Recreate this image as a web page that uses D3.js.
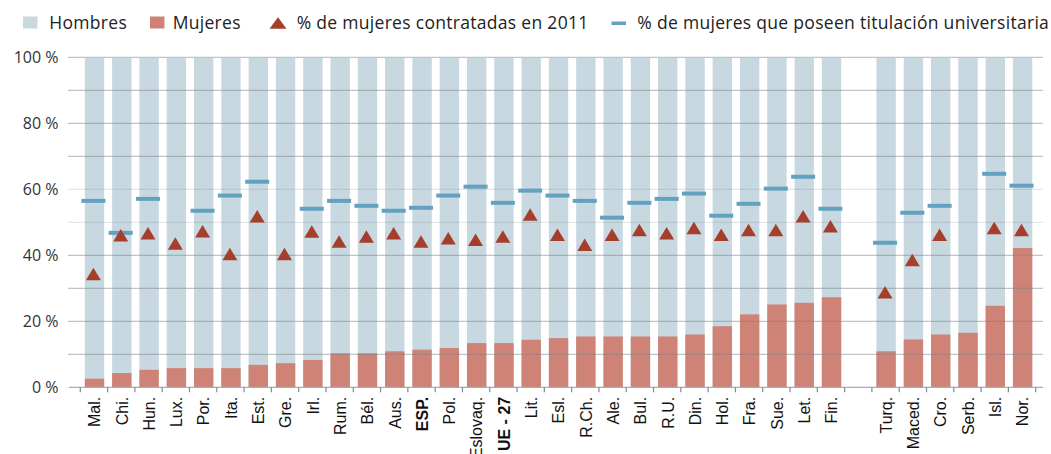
<!DOCTYPE html>
<html>
<head>
<meta charset="utf-8">
<script src="https://cdn.jsdelivr.net/npm/d3@7"></script>
<style>
  body { margin: 0; background: #fff; }
  svg { display: block; }
</style>
</head>
<body>
<div id="graph"></div>
<script>
// categories (a blank slot separates the EU countries from the others)
const countries = ["Mal.", "Chi.", "Hun.", "Lux.", "Por.", "Ita.", "Est.", "Gre.", "Irl.", "Rum.",
  "Bél.", "Aus.", "ESP.", "Pol.", "Eslovaq.", "UE - 27", "Lit.", "Esl.", "R.Ch.", "Ale.",
  "Bul.", "R.U.", "Din.", "Hol.", "Fra.", "Sue.", "Let.", "Fin."];
const others = ["Turq.", "Maced.", "Cro.", "Serb.", "Isl.", "Nor."];
const boldLabels = ["ESP.", "UE - 27"];

// % women (rest up to 100 % = men)
const mujeres = [2.6, 4.3, 5.3, 5.8, 5.8, 5.8, 6.8, 7.3, 8.3, 10.3,
  10.3, 10.9, 11.4, 11.9, 13.4, 13.4, 14.4, 14.9, 15.4, 15.4,
  15.4, 15.4, 16.0, 18.5, 22.1, 25.1, 25.6, 27.3,
  10.9, 14.5, 16.0, 16.5, 24.7, 42.2];
// % women hired in 2011
const contratadas = [34.3, 46.1, 46.7, 43.6, 47.3, 40.4, 51.8, 40.4, 47.2, 44.2,
  45.7, 46.7, 44.2, 45.2, 44.7, 45.7, 52.4, 46.2, 43.2, 46.2,
  47.7, 46.7, 48.3, 46.2, 47.7, 47.7, 51.8, 48.8,
  28.8, 38.6, 46.2, null, 48.3, 47.7];
// % women with a university degree
const titulacion = [56.5, 46.8, 57.1, null, 53.5, 58.1, 62.3, null, 54.1, 56.5,
  55.0, 53.5, 54.4, 58.1, 60.8, 55.9, 59.6, 58.1, 56.5, 51.4,
  55.9, 57.1, 58.7, 52.0, 55.6, 60.2, 63.8, 54.1,
  43.8, 52.9, 55.0, null, 64.7, 61.1];

const yTicks = [0, 20, 40, 60, 80, 100];
const gridValues = d3.range(10, 101, 10);

const legendItems = ["Hombres", "Mujeres", "% de mujeres contratadas en 2011",
  "% de mujeres que poseen titulación universitaria"];

const colors = {
  hombres: "#c7d8e1",
  mujeres: "#cf8276",
  triangle: "#a63e2c",
  dash: "#62a1bf"
};

const width = 1051, height = 454;
const categories = countries.concat(others);
const data = categories.map((c, i) => ({
  name: c, mujeres: mujeres[i], contratadas: contratadas[i], titulacion: titulacion[i]
}));

const svg = d3.select("#graph").append("svg")
  .attr("width", width)
  .attr("height", height);

// scales
const domain = countries.concat(["_gap"], others);
const xScale = d3.scaleBand()
  .domain(domain)
  .range([80.3, 1035.7]);
const bw = xScale.bandwidth();
const barX = d => xScale(d.name) + bw * 0.165;
const barW = bw * 0.71;
const markX = d => xScale(d.name) + bw * 0.48;

const yScale = d3.scaleLinear()
  .domain([0, 100])
  .range([387.3, 57.3]);

// bars: men (full) then women on top
svg.append("g").selectAll("rect")
  .data(data)
  .enter().append("rect")
  .attr("x", barX)
  .attr("width", barW)
  .attr("y", yScale(100) + 0.7)
  .attr("height", yScale(0) - yScale(100) - 0.7)
  .attr("fill", colors.hombres);

svg.append("g").selectAll("rect")
  .data(data)
  .enter().append("rect")
  .attr("x", barX)
  .attr("width", barW)
  .attr("y", d => yScale(d.mujeres))
  .attr("height", d => yScale(0) - yScale(d.mujeres))
  .attr("fill", colors.mujeres);

// gridlines over bars
svg.append("g").selectAll("line")
  .data(gridValues)
  .enter().append("line")
  .attr("x1", 68)
  .attr("x2", 1043)
  .attr("y1", d => yScale(d))
  .attr("y2", d => yScale(d))
  .attr("stroke", "#7f8487")
  .attr("stroke-opacity", d => (d === 50 || d === 60) ? 0.25 : 0.6)
  .attr("stroke-width", 1);

// y labels
svg.append("g").selectAll("text")
  .data(yTicks)
  .enter().append("text")
  .attr("x", 58.5)
  .attr("y", d => yScale(d))
  .attr("dy", "0.35em")
  .attr("text-anchor", "end")
  .attr("font-family", "'Open Sans', sans-serif")
  .attr("font-size", 16)
  .attr("fill", "#333")
  .text(d => d + " %");

// x axis
const xAxis = svg.append("g")
  .attr("transform", "translate(0," + yScale(0) + ")");
xAxis.append("line")
  .attr("x1", 69).attr("x2", 1043)
  .attr("stroke", "#a9adb0").attr("stroke-width", 1.2);
xAxis.selectAll(".tick")
  .data(domain.map(d => xScale(d)).concat([xScale.range()[1]]))
  .enter().append("line")
  .attr("x1", d => d).attr("x2", d => d)
  .attr("y1", 0).attr("y2", 5)
  .attr("stroke", "#888").attr("stroke-width", 1.2);
xAxis.selectAll(".label")
  .data(data)
  .enter().append("text")
  .attr("transform", d => "translate(" + (barX(d) + barW / 2) + ",9.5) rotate(-90)")
  .attr("dy", "0.36em")
  .attr("text-anchor", "end")
  .attr("font-family", "'Liberation Sans', Arial, sans-serif")
  .attr("font-size", 16)
  .attr("font-weight", d => boldLabels.includes(d.name) ? "bold" : "normal")
  .attr("fill", "#111")
  .text(d => d.name);

// % with degree: dashes
svg.append("g").selectAll("rect")
  .data(data.filter(d => d.titulacion !== null))
  .enter().append("rect")
  .attr("x", d => markX(d) - 12)
  .attr("width", 24)
  .attr("y", d => yScale(d.titulacion) - 2)
  .attr("height", 4)
  .attr("fill", colors.dash);

// % hired: triangles
const tri = (cx, cy, w, h) => "M" + (cx - w / 2) + "," + (cy + h / 2) +
  "L" + cx + "," + (cy - h / 2) + "L" + (cx + w / 2) + "," + (cy + h / 2) + "Z";
svg.append("g").selectAll("path")
  .data(data.filter(d => d.contratadas !== null))
  .enter().append("path")
  .attr("d", d => tri(markX(d), yScale(d.contratadas), 15, 12.5))
  .attr("fill", colors.triangle);

// legend
const legend = svg.append("g")
  .attr("font-family", "'Open Sans', sans-serif")
  .attr("font-size", 17.5)
  .attr("letter-spacing", 0.3)
  .attr("fill", "#222");
legend.append("rect").attr("x", 23).attr("y", 16.5).attr("width", 14.5).attr("height", 12).attr("fill", colors.hombres);
legend.append("rect").attr("x", 150).attr("y", 16.5).attr("width", 14.5).attr("height", 12).attr("fill", colors.mujeres);
legend.append("path").attr("d", tri(278, 23, 17, 11.5)).attr("fill", colors.triangle);
legend.append("rect").attr("x", 611.5).attr("y", 21.5).attr("width", 14.5).attr("height", 3.5).attr("fill", colors.dash);
const legendX = [49.3, 172.7, 296.7, 637.3];
legend.selectAll("text")
  .data(legendItems)
  .enter().append("text")
  .attr("x", (d, i) => legendX[i])
  .attr("y", 28.5)
  .text(d => d);
</script>
</body>
</html>
